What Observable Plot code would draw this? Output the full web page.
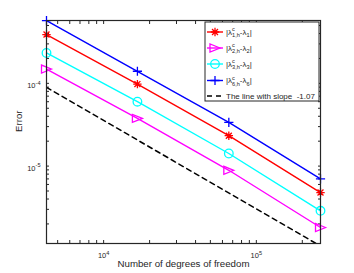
<!DOCTYPE html>
<html><head><meta charset="utf-8">
<script src="https://cdn.jsdelivr.net/npm/d3@7"></script>
<script src="https://cdn.jsdelivr.net/npm/@observablehq/plot@0.6"></script>
<style>
body{margin:0;background:#fff}
#chart{position:relative;width:354px;height:273px}
svg{font-family:"Liberation Sans",Arial,Helvetica,sans-serif}
</style>
</head><body><div id="chart"></div>
<script>
// ---- data ----
const dofs = [4225, 16641, 66049, 263169];
const err1 = [3.89e-4, 9.8e-5, 2.33e-5, 4.79e-6];
const err2 = [1.49e-4, 3.77e-5, 8.9e-6, 1.81e-6];
const err3 = [2.33e-4, 6.0e-5, 1.42e-5, 2.88e-6];
const err6 = [5.74e-4, 1.40e-4, 3.37e-5, 7.0e-6];
const refX = [4225, 263169];
const refY = [8.95e-5, 1.08e-6];
const xDomain = [4225, 263169];
const yDomain = [1.16e-6, 5.75e-4];
const xMajor = [1e4, 1e5];
const xMinor = [5000, 6000, 7000, 8000, 9000, 20000, 30000, 40000, 50000, 60000, 70000, 80000, 90000, 200000];
const yMajor = [1e-5, 1e-4];
const yMinor = [2e-6, 3e-6, 4e-6, 5e-6, 6e-6, 7e-6, 8e-6, 9e-6, 2e-5, 3e-5, 4e-5, 5e-5, 6e-5, 7e-5, 8e-5, 9e-5, 2e-4, 3e-4, 4e-4, 5e-4];
const legendIdx = ["1", "2", "3", "6"];
const refSlope = "-1.07";
const xTitle = "Number of degrees of freedom";
const yTitle = "Error";

// ---- symbols ----
const asterisk = {draw(c, s){const r=Math.sqrt(s/Math.PI), d=r*Math.SQRT1_2;
  c.moveTo(-r,0);c.lineTo(r,0);c.moveTo(0,-r);c.lineTo(0,r);
  c.moveTo(-d,-d);c.lineTo(d,d);c.moveTo(-d,d);c.lineTo(d,-d);}};
const plus = {draw(c, s){const r=Math.sqrt(s/Math.PI);
  c.moveTo(-r,0);c.lineTo(r,0);c.moveTo(0,-r);c.lineTo(0,r);}};
const triRight = {draw(c, s){const r=Math.sqrt(s/Math.PI);
  c.moveTo(r,0);c.lineTo(-r,-0.8*r);c.lineTo(-r,0.8*r);c.closePath();}};
const ring = {draw(c, s){const r=Math.sqrt(s/Math.PI); c.moveTo(r,0); c.arc(0,0,r,0,2*Math.PI);}};

const series = [
  {ys: err1, color: "#ff0000", symbol: asterisk, r: 4.2},
  {ys: err2, color: "#ff00ff", symbol: triRight, r: 5},
  {ys: err3, color: "#00ffff", symbol: ring, r: 4.3},
  {ys: err6, color: "#0000ff", symbol: plus, r: 4.6}
];
const toRows = ys => dofs.map((x, i) => ({x, y: ys[i]}));
const refRows = refX.map((x, i) => ({x, y: refY[i]}));

const ink = "#262626";
const marks = [];
// inward ticks on all four sides
const allX = xMajor.concat(xMinor), allY = yMajor.concat(yMinor);
marks.push(Plot.axisX(allX, {anchor: "bottom", tickSize: 3, dy: -3, tickFormat: () => "", label: null, stroke: ink}));
marks.push(Plot.axisX(allX, {anchor: "top", tickSize: 3, dy: 3, tickFormat: () => "", label: null, stroke: ink}));
marks.push(Plot.axisY(allY, {anchor: "left", tickSize: 3, dx: 3, tickFormat: () => "", label: null, stroke: ink}));
marks.push(Plot.axisY(allY, {anchor: "right", tickSize: 3, dx: -3, tickFormat: () => "", label: null, stroke: ink}));
// labels
marks.push(Plot.axisX(xMajor, {anchor: "bottom", tickSize: 0, tickPadding: 9, tickFormat: d => String(Math.round(Math.log10(d))), label: null, fontSize: 7.5, fill: ink}));
marks.push(Plot.axisY(yMajor, {anchor: "left", tickSize: 0, tickPadding: 6, dy: 2, tickFormat: d => String(Math.round(Math.log10(d))), label: null, fontSize: 7.5, fill: ink}));
marks.push(Plot.text([xTitle], {frameAnchor: "bottom", dy: 23.5, text: d => d, fontSize: 9.7, fill: ink}));
marks.push(Plot.text([yTitle], {frameAnchor: "left", dx: -28, rotate: -90, text: d => d, fontSize: 9.7, fill: ink}));
// data
marks.push(Plot.line(refRows, {x: "x", y: "y", stroke: "#000", strokeWidth: 1.5, strokeDasharray: "5,4", clip: true}));
for (const s of series) {
  marks.push(Plot.line(toRows(s.ys), {x: "x", y: "y", stroke: s.color, strokeWidth: 1.4}));
  marks.push(Plot.dot(toRows(s.ys), {x: "x", y: "y", symbol: s.symbol, r: s.r, stroke: s.color, fill: "none", strokeWidth: 1.3}));
}
marks.push(Plot.frame({stroke: ink, strokeWidth: 1.2}));

const chart = Plot.plot({
  width: 354, height: 273,
  marginLeft: 46, marginRight: 34, marginTop: 20, marginBottom: 30,
  x: {type: "log", domain: xDomain, axis: null},
  y: {type: "log", domain: yDomain, axis: null},
  style: {background: "#fff", fontFamily: "'Liberation Sans', Arial, sans-serif", overflow: "visible"},
  marks
});
document.getElementById("chart").appendChild(chart);

// superscript exponents on tick labels
const svg = d3.select(chart);
svg.selectAll('g[aria-label="x-axis tick label"] text, g[aria-label="y-axis tick label"] text').each(function() {
  const e = this.textContent;
  if (!e) return;
  const t = d3.select(this);
  t.text(null);
  t.append("tspan").text("10");
  t.append("tspan").attr("dy", "-0.55em").attr("font-size", "5.6px").text(e);
});

// legend
const lg = svg.append("g").attr("font-size", "8px").attr("fill", ink).attr("text-anchor", "start");
const bx = 205, by = 22, bw = 114, bh = 79;
lg.append("rect").attr("x", bx).attr("y", by).attr("width", bw).attr("height", bh)
  .attr("fill", "#fff").attr("stroke", ink).attr("stroke-width", 1);
const rowsY = [32, 48, 64, 80.5];
series.forEach((s, i) => {
  const y = rowsY[i];
  lg.append("line").attr("x1", 207).attr("x2", 223).attr("y1", y).attr("y2", y).attr("stroke", s.color).attr("stroke-width", 1.4);
  lg.append("path").attr("transform", `translate(215,${y})`)
    .attr("d", d3.symbol().type(s.symbol).size(Math.PI * s.r * s.r)())
    .attr("fill", "none").attr("stroke", s.color).attr("stroke-width", 1.3);
  const t = lg.append("text").attr("x", 226).attr("y", y + 2.5);
  t.append("tspan").text("|λ");
  t.append("tspan").attr("font-size", "5.6px").attr("dy", -3.5).text("c");
  t.append("tspan").attr("font-size", "5.6px").attr("dx", -2.8).attr("dy", 6).text(legendIdx[i] + ",h");
  t.append("tspan").attr("dy", -2.5).text("-λ");
  t.append("tspan").attr("font-size", "5.6px").attr("dy", 2.5).text(legendIdx[i]);
  t.append("tspan").attr("dy", -2.5).text("|");
});
const ry = 96;
lg.append("line").attr("x1", 207).attr("x2", 223).attr("y1", ry).attr("y2", ry).attr("stroke", "#000").attr("stroke-width", 1.5).attr("stroke-dasharray", "5,4");
lg.append("text").attr("x", 226).attr("y", ry + 2.8).attr("xml:space", "preserve").style("white-space", "pre").text("The line with slope  " + refSlope);
</script>
</body></html>
